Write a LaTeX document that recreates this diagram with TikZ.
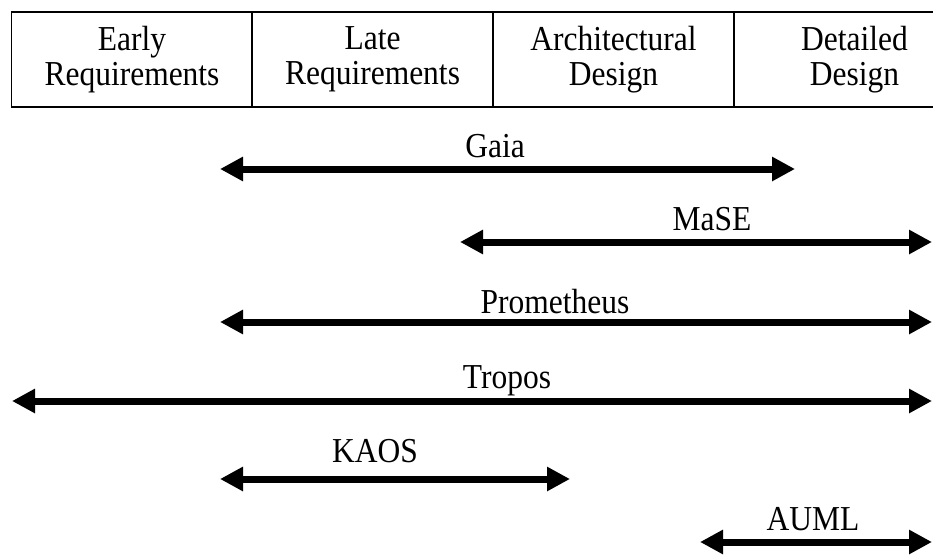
\documentclass[tikz,border=0pt]{standalone}
\usepackage{fontspec}
\setmainfont{Liberation Serif}[FakeStretch=0.9]
\usetikzlibrary{arrows.meta, positioning}
\tikzset{
  phasebox/.style  = {draw, line width=1.5pt, minimum width=241pt, minimum height=95pt,
                      inner sep=0pt, align=center, font=\fontsize{35}{35}\selectfont},
  spanarrow/.style = {{Triangle[length=23pt, width=23pt]}-{Triangle[length=23pt, width=23pt]},
                      line width=7pt},
  methlabel/.style = {anchor=base, inner sep=0pt, font=\fontsize{35}{35}\selectfont},
}

\begin{document}
\begin{tikzpicture}[x=1pt, y=-1pt]
  \useasboundingbox (0,0) rectangle (933,554);
  \clip (0,0) rectangle (933,554);
  % phases
  \node[phasebox] (early) at (132,59.5)   {Early\\Requirements};
  \node[phasebox] (late)  at (372.5,59.5) {Late\\Requirements};
  \node[phasebox] (arch)  at (613.5,59.5) {Architectural\\Design};
  \node[phasebox] (det)   at (854.5,59.5) {Detailed\\Design};
  % methodology spans
  \coordinate (gaiaL) at (220,169);
  \coordinate (gaiaR) at (795,169);
  \coordinate (maseL) at (460,242);
  \coordinate (maseR) at (932,242);
  \coordinate (promL) at (220,322);
  \coordinate (promR) at (932,322);
  \coordinate (tropL) at (12,401);
  \coordinate (tropR) at (932,401);
  \coordinate (kaosL) at (220,479);
  \coordinate (kaosR) at (570,479);
  \coordinate (aumlL) at (700,542);
  \coordinate (aumlR) at (932,542);
  \draw[spanarrow] (gaiaL) -- (gaiaR);
  \draw[spanarrow] (maseL) -- (maseR);
  \draw[spanarrow] (promL) -- (promR);
  \draw[spanarrow] (tropL) -- (tropR);
  \draw[spanarrow] (kaosL) -- (kaosR);
  \draw[spanarrow] (aumlL) -- (aumlR);
  \node[methlabel] (gaia) at (495,157) {Gaia};
  \node[methlabel] (mase) at (712,230) {MaSE};
  \node[methlabel] (prom) at (555,313) {Prometheus};
  \node[methlabel] (trop) at (507,388) {Tropos};
  \node[methlabel] (kaos) at (375,462) {KAOS};
  \node[methlabel] (auml) at (813,530) {AUML};
\end{tikzpicture}
\end{document}
